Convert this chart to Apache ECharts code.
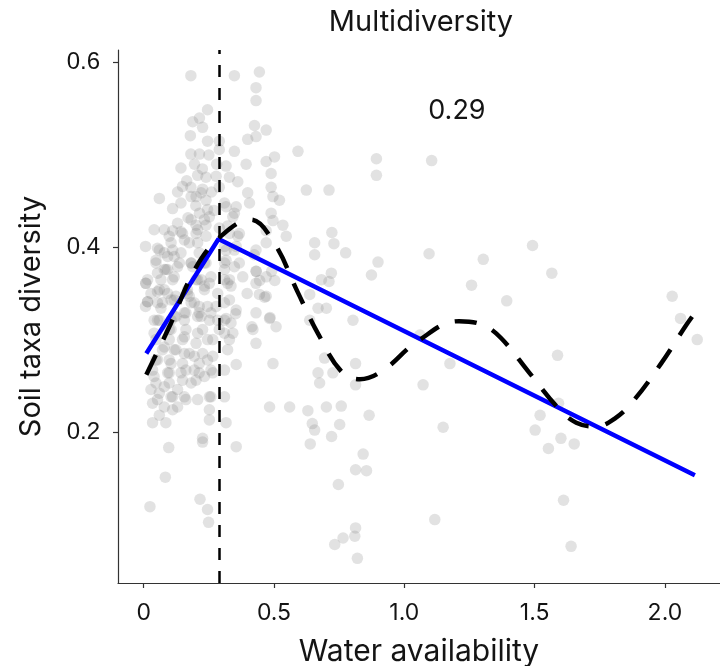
<!DOCTYPE html>
<html>
<head>
<meta charset="utf-8">
<script src="https://cdn.jsdelivr.net/npm/echarts/dist/echarts.min.js"></script>
<style>
html,body{margin:0;padding:0;background:#fff;}
#chart{width:720px;height:666px;}
</style>
</head>
<body>
<div id="chart"></div>
<script>
// ---- data ----
const titleText = 'Multidiversity';
const xName = 'Water availability';
const yName = 'Soil taxa diversity';
const xTicks = [0, 0.5, 1.0, 1.5, 2.0];
const yTicks = [0.2, 0.4, 0.6];
const breakpoint = 0.287;
const breakLabel = '0.29';
const breakLabelPos = [1.202, 0.548];

// dense cluster (upper part)
const pointsClusterTop = [
[0.181,0.586],[0.348,0.586],[0.444,0.590],[0.431,0.573],[0.431,0.559],[0.245,0.549],[0.214,0.540],[0.188,0.536],
[0.226,0.530],[0.425,0.532],[0.470,0.527],[0.399,0.517],[0.431,0.520],[0.179,0.521],[0.245,0.515],[0.290,0.515],
[0.290,0.506],[0.348,0.504],[0.181,0.501],[0.214,0.501],[0.592,0.504],[0.470,0.493],[0.502,0.498],[0.393,0.490],
[0.316,0.488],[0.143,0.486],[0.489,0.480],[0.207,0.478],[0.239,0.476],[0.278,0.477],[0.329,0.476],[0.361,0.471],
[0.149,0.466],[0.181,0.465],[0.226,0.463],[0.290,0.465],[0.489,0.465],[0.624,0.462],[0.399,0.459],[0.060,0.453],
[0.111,0.442],[0.143,0.448],[0.201,0.455],[0.239,0.451],[0.316,0.444],[0.355,0.444],[0.406,0.448],[0.496,0.455],
[0.521,0.451],[0.214,0.437],[0.252,0.433],[0.342,0.433],[0.489,0.437],[0.496,0.429],[0.534,0.424],[0.111,0.418],
[0.143,0.417],[0.201,0.424],[0.239,0.424],[0.290,0.421],[0.470,0.418],
[0.182,0.455],[0.220,0.459],[0.245,0.441],[0.310,0.448],[0.348,0.437],[0.040,0.419],[0.079,0.419],[0.130,0.426],
[0.182,0.430],[0.207,0.419],[0.233,0.430],[0.322,0.423],[0.361,0.412],
[0.165,0.472],[0.195,0.490],[0.225,0.485],[0.260,0.460],[0.270,0.440],[0.170,0.432],[0.130,0.460],[0.250,0.500],
[0.200,0.445],[0.280,0.490]
];
// dense cluster (middle part)
const pointsClusterMid = [
[0.098,0.412],[0.149,0.415],[0.201,0.415],[0.239,0.412],[0.329,0.415],[0.367,0.415],[0.060,0.397],[0.111,0.397],
[0.175,0.405],[0.213,0.394],[0.316,0.397],[0.355,0.401],[0.431,0.397],[0.470,0.405],[0.547,0.412],[0.047,0.383],
[0.085,0.376],[0.137,0.383],[0.188,0.379],[0.239,0.383],[0.316,0.386],[0.367,0.383],[0.431,0.374],[0.470,0.368],
[0.008,0.361],[0.060,0.354],[0.111,0.365],[0.201,0.365],[0.252,0.361],[0.329,0.365],[0.380,0.368],[0.431,0.361],
[0.015,0.341],[0.072,0.340],[0.124,0.347],[0.175,0.347],[0.213,0.336],[0.278,0.336],[0.329,0.343],[0.444,0.349],
[0.470,0.347],[0.060,0.321],[0.124,0.325],[0.162,0.329],[0.213,0.329],[0.252,0.321],[0.316,0.323],[0.355,0.332],
[0.431,0.329],[0.483,0.323],
[0.007,0.401],[0.053,0.399],[0.105,0.405],[0.156,0.408],[0.207,0.405],[0.310,0.401],[0.348,0.397],[0.047,0.386],
[0.092,0.390],[0.143,0.394],[0.079,0.376],[0.130,0.379],[0.182,0.383],[0.233,0.383],[0.310,0.383],[0.348,0.379],
[0.015,0.365],[0.066,0.365],[0.117,0.368],[0.207,0.365],[0.310,0.365],[0.028,0.350],[0.079,0.354],[0.168,0.354],
[0.233,0.358],[0.284,0.350],[0.335,0.358],[0.007,0.336],[0.053,0.340],[0.105,0.343],[0.182,0.340],[0.245,0.336],
[0.310,0.340],[0.040,0.321],[0.105,0.321],[0.156,0.329],[0.220,0.325],[0.284,0.321],[0.335,0.318],
[0.424,0.392],[0.432,0.374],[0.445,0.364],[0.491,0.374],[0.503,0.364],[0.464,0.346],[0.485,0.324],[0.415,0.314],
[0.353,0.328],[0.397,0.350]
];
// extra points of the densest part of the cluster
const pointsClusterDense = [
[0.008,0.361],[0.053,0.372],[0.092,0.376],[0.079,0.394],[0.117,0.390],[0.182,0.383],[0.053,0.352],[0.092,0.350],
[0.015,0.341],[0.066,0.334],[0.117,0.343],[0.168,0.350],[0.194,0.340],[0.233,0.354],[0.220,0.365],[0.258,0.368],
[0.310,0.376],[0.322,0.361],[0.053,0.321],[0.117,0.325],[0.156,0.321],[0.207,0.325],[0.258,0.329],[0.310,0.321],
[0.040,0.307],[0.105,0.311],[0.156,0.303],[0.207,0.307],[0.245,0.300],[0.310,0.307],[0.322,0.289],[0.079,0.292],
[0.117,0.289],[0.156,0.285],[0.194,0.282],[0.245,0.278],[0.053,0.278],[0.105,0.274],[0.040,0.260],[0.092,0.264],
[0.143,0.264],[0.194,0.267],[0.233,0.260],[0.258,0.267],[0.310,0.267],[0.028,0.246],[0.079,0.249],[0.130,0.246],
[0.182,0.253],[0.053,0.235],[0.105,0.238],[0.156,0.238],[0.207,0.235],[0.258,0.238],[0.310,0.238],[0.079,0.227],
[0.130,0.227]
];
// dense cluster (lower part)
const pointsClusterLow = [
[0.098,0.311],[0.162,0.311],[0.226,0.311],[0.290,0.311],[0.342,0.307],[0.419,0.311],[0.508,0.314],[0.047,0.300],
[0.098,0.300],[0.149,0.300],[0.201,0.296],[0.265,0.300],[0.329,0.300],[0.431,0.296],[0.072,0.289],[0.124,0.289],
[0.175,0.285],[0.226,0.285],[0.265,0.282],[0.047,0.278],[0.098,0.278],[0.149,0.274],[0.213,0.274],[0.355,0.273],
[0.496,0.274],[0.034,0.267],[0.098,0.264],[0.162,0.267],[0.213,0.264],[0.047,0.253],[0.098,0.253],[0.149,0.256],
[0.201,0.256],[0.265,0.264],[0.060,0.242],[0.111,0.238],[0.162,0.235],[0.034,0.231],[0.060,0.218],[0.111,0.224],
[0.252,0.238],[0.252,0.224],[0.483,0.227],[0.560,0.227],[0.034,0.210],[0.085,0.210],[0.252,0.213],[0.316,0.210],
[0.096,0.183],[0.226,0.193],[0.226,0.189],[0.355,0.184],[0.083,0.151],[0.024,0.119],[0.216,0.127],[0.245,0.116],
[0.249,0.102]
];
// middle of the range
const pointsMiddle = [
[0.893,0.496],[0.893,0.478],[1.105,0.494],[0.711,0.462],[0.722,0.416],[0.656,0.405],[0.730,0.404],[0.775,0.394],
[0.656,0.392],[0.899,0.384],[0.874,0.370],[0.720,0.372],[0.682,0.365],[0.711,0.363],[1.095,0.393],[1.303,0.387],
[1.258,0.359],[1.393,0.342],
[0.637,0.349],[0.669,0.334],[0.701,0.334],[0.637,0.321],[0.803,0.321],[1.060,0.305],[1.175,0.274],[0.813,0.274],
[0.694,0.280],[0.669,0.264],[0.726,0.264],[0.675,0.253],[0.813,0.251],[1.072,0.251],[0.701,0.227],[0.758,0.228],
[0.630,0.223],[0.647,0.209],[0.656,0.202],[0.752,0.208],[0.721,0.195],[0.865,0.218],[0.639,0.187],[1.149,0.205],
[0.842,0.176],[0.813,0.159],[0.855,0.158],[0.747,0.143],[1.117,0.105],[0.813,0.096],[0.765,0.085],[0.733,0.078],
[0.810,0.087],[0.820,0.063]
];
// right part
const pointsRight = [
[1.492,0.402],[1.566,0.372],[2.028,0.347],[2.060,0.323],[2.124,0.300],[1.588,0.283],[1.592,0.231],[1.521,0.218],
[1.502,0.202],[1.553,0.182],[1.601,0.193],[1.652,0.187],[1.611,0.126],[1.640,0.076]
];

// piecewise (segmented) regression line
const segX = [0.01, 0.287, 2.115];
const segY = [0.285, 0.409, 0.153];

// smooth fitted (dashed) curve
const curveX = [0.01,0.1,0.2,0.3,0.41,0.5,0.59,0.67,0.76,0.83,0.92,1.05,1.21,1.30,1.37,1.48,1.59,1.66,1.735,1.81,1.88,1.985,2.08,2.105];
const curveY = [0.262,0.315,0.378,0.413,0.430,0.405,0.352,0.306,0.265,0.257,0.267,0.298,0.320,0.316,0.302,0.264,0.226,0.210,0.206,0.215,0.234,0.274,0.315,0.325];

// ---- chart ----
const allPoints = pointsClusterTop.concat(pointsClusterMid, pointsClusterDense, pointsClusterLow, pointsMiddle, pointsRight);
const segData = segX.map((x, i) => [x, segY[i]]);
const curveData = curveX.map((x, i) => [x, curveY[i]]);

const chart = echarts.init(document.getElementById('chart'), null, {renderer: 'canvas'});
const axisColor = '#333';
const textColor = '#141414';

chart.setOption({
  animation: false,
  backgroundColor: '#fff',
  title: {
    text: titleText,
    left: 416,
    top: 3,
    textAlign: 'center',
    textStyle: {fontFamily: 'Inter', fontSize: 29, fontWeight: 'normal', color: textColor}
  },
  grid: {left: 118, right: 0, top: 50, bottom: 83, containLabel: false, outerBoundsMode: 'none'},
  xAxis: {
    type: 'value',
    min: -0.0986,
    max: 2.2114,
    name: xName,
    nameLocation: 'middle',
    nameGap: 54,
    nameTextStyle: {fontFamily: 'Inter', fontSize: 30, color: textColor},
    axisLine: {show: true, onZero: false, lineStyle: {color: axisColor, width: 1.2}},
    axisTick: {show: true, length: 5, customValues: xTicks, lineStyle: {color: axisColor, width: 1.2}},
    axisLabel: {
      customValues: xTicks, margin: 19,
      fontFamily: 'Inter', fontSize: 23, color: textColor,
      formatter: v => (v === 0 ? '0' : v.toFixed(1))
    },
    splitLine: {show: false}
  },
  yAxis: {
    type: 'value',
    min: 0.0363,
    max: 0.6138,
    name: yName,
    nameLocation: 'middle',
    nameGap: 72,
    nameRotate: 90,
    nameTextStyle: {fontFamily: 'Inter', fontSize: 29, color: textColor},
    axisLine: {show: true, onZero: false, lineStyle: {color: axisColor, width: 1.2}},
    axisTick: {show: true, length: 5, customValues: yTicks, lineStyle: {color: axisColor, width: 1.2}},
    axisLabel: {
      customValues: yTicks, margin: 18,
      fontFamily: 'Liberation Sans', fontSize: 24, color: textColor,
      formatter: v => v.toFixed(1)
    },
    splitLine: {show: false}
  },
  series: [
    {
      type: 'scatter',
      data: allPoints,
      symbolSize: 11.5,
      itemStyle: {color: 'rgba(120,120,120,0.21)', borderWidth: 0, opacity: 1},
      silent: true,
      z: 1
    },
    {
      type: 'line',
      data: segData,
      showSymbol: false,
      symbol: 'none',
      lineStyle: {color: '#0000ff', width: 4.5},
      z: 3
    },
    {
      type: 'line',
      data: curveData,
      smooth: 0.4,
      symbol: 'none',
      lineStyle: {color: '#000', width: 4.5, type: [22, 17]},
      z: 4,
      markLine: {
        silent: true,
        symbol: ['none', 'none'],
        label: {show: false},
        lineStyle: {color: '#000', width: 2.5, type: [12, 11]},
        data: [{xAxis: breakpoint}]
      }
    },
    {
      type: 'scatter',
      data: [breakLabelPos],
      symbolSize: 0,
      silent: true,
      itemStyle: {opacity: 1},
      label: {
        show: true, position: 'inside', formatter: breakLabel,
        fontFamily: 'Inter', fontSize: 27, color: textColor
      },
      z: 5
    }
  ]
});
</script>
</body>
</html>
